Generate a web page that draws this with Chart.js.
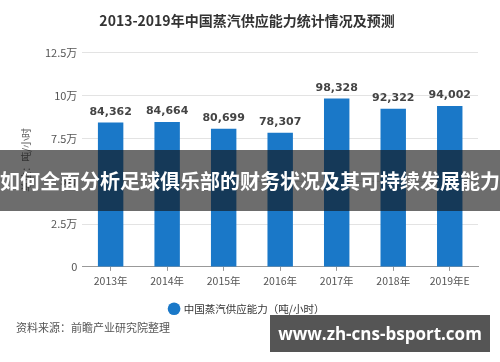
<!DOCTYPE html>
<html>
<head>
<meta charset="utf-8">
<script src="https://cdn.jsdelivr.net/npm/chart.js@4"></script>
<style>
  body { margin: 0; background: #fff; font-family: "Noto Sans CJK SC", sans-serif; }
  #wrap { position: relative; width: 500px; height: 362px; overflow: hidden; }
  #source { position: absolute; left: 16px; top: 319px; font-size: 11px; color: #555; }
  #banner { position: absolute; left: 0; top: 150px; width: 500px; height: 61px;
    background: rgba(20, 20, 20, 0.62); color: #fff; font-size: 20px; font-weight: bold;
    line-height: 61px; text-align: center; white-space: nowrap; }
  #site { position: absolute; left: 270px; top: 315px; width: 220px; height: 37px;
    background: rgba(70, 70, 70, 0.92); color: #fff; font-family: "Open Sans", sans-serif;
    font-size: 17px; font-weight: bold; line-height: 37px; text-align: center; }
</style>
</head>
<body>
<div id="wrap">
  <canvas id="steamChart" width="500" height="362"></canvas>
  <div id="source">资料来源：前瞻产业研究院整理</div>
  <div id="banner">如何全面分析足球俱乐部的财务状况及其可持续发展能力</div>
  <div id="site">www.zh-cns-bsport.com</div>
</div>
<script>
// data
const years = ['2013年', '2014年', '2015年', '2016年', '2017年', '2018年', '2019年E'];
const supplyCapacity = [84362, 84664, 80699, 78307, 98328, 92322, 94002];
const yTicks = [0, 25000, 50000, 75000, 100000, 125000];

const cjkFont = '"Noto Sans CJK SC", sans-serif';

// small plugin that writes the value above every bar
const barValueLabels = {
  id: 'barValueLabels',
  afterDatasetsDraw(chart) {
    const ctx = chart.ctx;
    ctx.save();
    ctx.font = 'bold 11px "DejaVu Sans", sans-serif';
    ctx.fillStyle = '#444';
    ctx.textAlign = 'center';
    ctx.textBaseline = 'bottom';
    chart.getDatasetMeta(0).data.forEach((bar, i) => {
      ctx.fillText(supplyCapacity[i].toLocaleString('en-US'), bar.x, bar.y - 5);
    });
    ctx.restore();
  }
};

const ctx = document.getElementById('steamChart').getContext('2d');
const steamChart = new Chart(ctx, {
  type: 'bar',
  data: {
    labels: years,
    datasets: [{
      label: '中国蒸汽供应能力（吨/小时）',
      data: supplyCapacity,
      backgroundColor: '#1a78c8',
      categoryPercentage: 0.9,
      barPercentage: 0.5
    }]
  },
  options: {
    responsive: false,
    animation: false,
    layout: { padding: { top: 4, left: 16, right: 22, bottom: 38 } },
    plugins: {
      title: {
        display: true,
        text: '2013-2019年中国蒸汽供应能力统计情况及预测',
        color: '#333',
        font: { family: cjkFont, size: 14, weight: 'bold' },
        padding: { top: 8, bottom: 24 }
      },
      legend: {
        position: 'bottom',
        labels: {
          usePointStyle: true,
          pointStyle: 'circle',
          boxWidth: 9,
          boxHeight: 9,
          color: '#333',
          font: { family: cjkFont, size: 10.5 },
          padding: 12
        }
      },
      tooltip: { enabled: false }
    },
    scales: {
      x: {
        grid: { drawOnChartArea: false, offset: false, tickLength: 4, color: '#999' },
        border: { color: '#999' },
        ticks: { color: '#555', font: { family: cjkFont, size: 10.5 }, padding: 4 }
      },
      y: {
        min: 0,
        max: 125000,
        afterBuildTicks(axis) { axis.ticks = yTicks.map(v => ({ value: v })); },
        grid: { color: '#e3e3e3', drawTicks: false },
        border: { display: false },
        title: {
          display: true,
          text: '单位：吨/小时',
          color: '#666',
          font: { family: cjkFont, size: 10 },
          padding: { bottom: 8 }
        },
        ticks: {
          color: '#555',
          font: { family: cjkFont, size: 11 },
          padding: 5,
          callback: v => v === 0 ? '0' : (v / 10000) + '万'
        }
      }
    }
  },
  plugins: [barValueLabels]
});
</script>
</body>
</html>
